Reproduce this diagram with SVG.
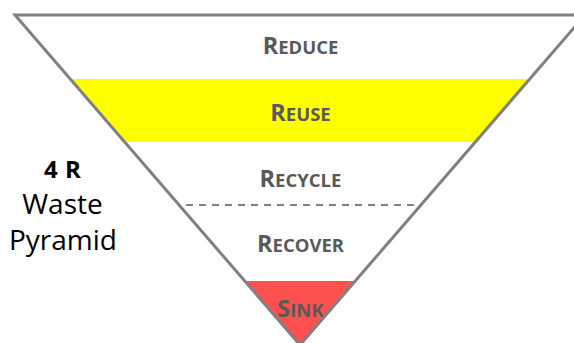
<svg xmlns="http://www.w3.org/2000/svg" width="574" height="343" viewBox="0 0 574 343">
<style>
.lbl{font-family:"Open Sans","Liberation Sans",sans-serif;font-weight:bold;font-size:18.5px;fill:#595959;text-anchor:middle}
.cap{font-size:23.5px}
.side{font-family:"Open Sans","Liberation Sans",sans-serif;fill:#000;text-anchor:middle;font-size:28px}
.head{font-family:"Open Sans","Liberation Sans",sans-serif;fill:#000;text-anchor:middle;font-size:24px;font-weight:bold;word-spacing:1px}
.outline{fill:none;stroke:#808080;stroke-width:3;stroke-linejoin:miter}
</style>
<rect width="574" height="343" fill="#fff"/>
<g id="reduce">
<polygon points="15,15 585,15 529.7,79 70.3,79" fill="#fff"/>
<text class="lbl" x="300.5" y="54"><tspan class="cap">R</tspan>EDUCE</text>
</g>
<g id="reuse">
<polygon points="70.3,79 529.7,79 475.3,142 124.7,142" fill="#ffff00"/>
<text class="lbl" x="300.5" y="121"><tspan class="cap">R</tspan>EUSE</text>
</g>
<g id="recycle">
<text class="lbl" x="300.5" y="186.5"><tspan class="cap">R</tspan>ECYCLE</text>
</g>
<g id="recover">
<text class="lbl" x="300.5" y="251.5"><tspan class="cap">R</tspan>ECOVER</text>
</g>
<g id="sink">
<polygon points="244.7,281 355.3,281 300,345" fill="#ff5050"/>
<text class="lbl" x="300.5" y="317"><tspan class="cap">S</tspan>INK</text>
</g>
<g id="connectors">
<line x1="186" y1="205" x2="418" y2="205" stroke="#808080" stroke-width="2" stroke-dasharray="7 6"/>
</g>
<g id="pyramid">
<polygon class="outline" points="15,15 585,15 300,345"/>
</g>
<g id="title">
<text class="head" x="62.5" y="178">4 R</text>
<text class="side" x="62.5" y="214">Waste</text>
<text class="side" x="63" y="250">Pyramid</text>
</g>
</svg>
